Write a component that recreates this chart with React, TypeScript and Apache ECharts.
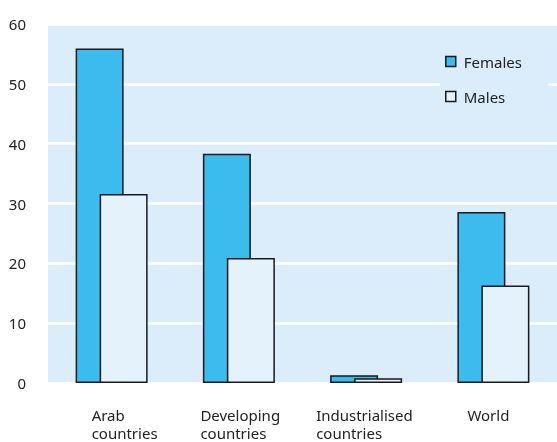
import React, { useEffect, useRef } from "react";
import * as echarts from "echarts";

const categories = ["Arab\ncountries", "Developing\ncountries", "Industrialised\ncountries", "World"];
const females = [55.9, 38.3, 1.3, 28.6];
const males = [31.6, 20.9, 0.8, 16.3];
const yTicks = { min: 0, max: 60, interval: 10 };
const seriesNames = ["Females", "Males"];

const labelKeys = ["a", "b", "c", "d"];
const labelWidths = [40, 77, 100, 52];

export default function App() {
  const ref = useRef<HTMLDivElement>(null);
  useEffect(() => {
    const chart = echarts.init(ref.current!, undefined, { renderer: "svg" });
    const font = "'Noto Sans', 'Open Sans', sans-serif";
    const rich: Record<string, any> = {};
    labelKeys.forEach((k, i) => {
      rich[k] = {
        width: labelWidths[i],
        align: "left",
        fontSize: 15,
        lineHeight: 18,
        color: "#222",
        fontFamily: font,
      };
    });
    chart.setOption({
      animation: false,
      textStyle: { fontFamily: font },
      grid: {
        left: 48,
        right: -6,
        top: 24,
        bottom: 59,
        show: true,
        backgroundColor: "#dbedfb",
        borderWidth: 0,
        containLabel: false,
      },
      legend: {
        data: seriesNames,
        orient: "vertical",
        left: 440,
        top: 44,
        padding: [10, 26, 10, 5],
        backgroundColor: "#dbedfb",
        itemWidth: 10,
        itemHeight: 10,
        itemGap: 20,
        icon: "rect",
        itemStyle: { borderColor: "#1a1a1a", borderWidth: 1.5 },
        textStyle: { fontSize: 15, color: "#222", fontFamily: font, padding: [0, 0, 0, 3] },
      },
      xAxis: {
        type: "category",
        data: categories,
        axisLine: { show: false },
        axisTick: { show: false },
        axisLabel: {
          interval: 0,
          margin: 23,
          align: "center",
          formatter: (value: string, index: number) =>
            value
              .split("\n")
              .map((l) => `{${labelKeys[index]}|${l}}`)
              .join("\n"),
          rich,
        },
      },
      yAxis: {
        type: "value",
        min: yTicks.min,
        max: yTicks.max,
        interval: yTicks.interval,
        axisLine: { show: false },
        axisTick: { show: false },
        axisLabel: { fontSize: 15, color: "#222", margin: 22, fontFamily: font },
        splitLine: { lineStyle: { color: "#ffffff", width: 2.5 } },
      },
      series: [
        {
          name: seriesNames[0],
          type: "bar",
          data: females,
          barWidth: 48,
          barGap: "-50%",
          itemStyle: { color: "#3cbbee", borderColor: "#1a1a1a", borderWidth: 1.5 },
        },
        {
          name: seriesNames[1],
          type: "bar",
          data: males,
          barWidth: 48,
          barGap: "-50%",
          itemStyle: { color: "#e4f2fc", borderColor: "#1a1a1a", borderWidth: 1.5 },
        },
      ],
    });
    return () => chart.dispose();
  }, []);
  return (
    <div
      ref={ref}
      style={{ position: "fixed", left: 0, top: 0, width: 557, height: 442, overflow: "hidden" }}
    />
  );
}
